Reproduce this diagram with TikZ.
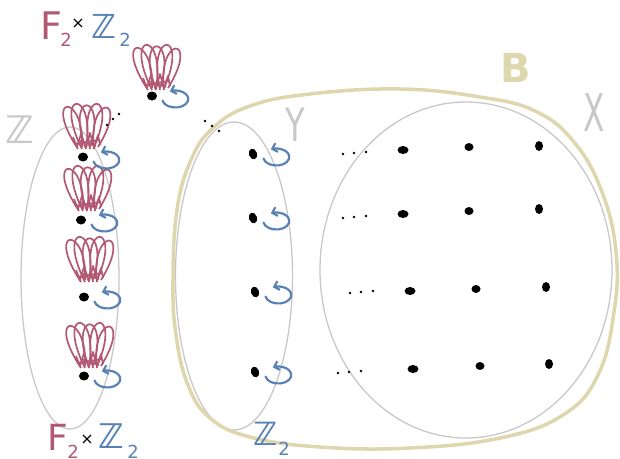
\documentclass[tikz,border=0pt]{standalone}
\usepackage{fontspec}
\setmainfont{DejaVu Sans}
\usetikzlibrary{shapes.geometric,arrows.meta,calc}
\definecolor{pinkc}{RGB}{178,88,115}
\definecolor{bluec}{RGB}{88,130,182}
\definecolor{grayc}{RGB}{200,200,200}
\definecolor{bcol}{RGB}{222,214,172}
\newcommand\fsz[1]{\fontsize{#1}{#1}\selectfont}
\begin{document}
\begin{tikzpicture}[x=1pt,y=-1pt,
  setell/.style={ellipse, draw=grayc, line width=1.3pt, inner sep=0},
  bline/.style={draw=bcol, line width=3.5pt},
  dotn/.style={ellipse, fill=black, inner sep=0, minimum width=10pt, minimum height=9pt},
  ydot/.style={ellipse, fill=black, inner sep=0, minimum width=8pt, minimum height=11pt, rotate=20},
  tinyd/.style={circle, fill=black, inner sep=0, minimum size=2.8pt},
  petal/.style={draw=pinkc, line width=1.7pt, line join=round},
  arrowc/.style={draw=bluec, line width=2.2pt, line cap=round, -{Straight Barb[length=4.5pt,width=9pt]}},
  lbl/.style={inner sep=0},
  flower/.pic={
    \foreach \t/\b/\h in {-23/-8/-56,-12/-4/-60,0/0/-58,12/4/-60,23/8/-55} {
      \draw[petal] (\b,0) .. controls (\t-22,\h) and (\t+22,\h) .. (\b+4,-2);
    }
    \draw[petal] (-13,-12) -- (-9,-2) -- (-5,-15) -- (0,-1) -- (4,-16) -- (8,-2) -- (12,-14) -- (14,-4);
    \draw[petal] (-12,-5) -- (13,-9);
    \draw[petal] (-8,-9) -- (10,-3);
  },
  turn/.pic={
    \draw[arrowc] (10.5,4.5) arc[start angle=190, end angle=475, x radius=13pt, y radius=8.5pt];
  }
]
\useasboundingbox (0,0) rectangle (620,458);

% sets
\node[setell, minimum width=98pt, minimum height=302pt] (Zset) at (70,278) {};
\node[setell, minimum width=117pt, minimum height=308pt] (Yset) at (234,276) {};
\node[setell, minimum width=292pt, minimum height=336pt] (Xset) at (466,270) {};

% B
\draw[bline] plot[smooth cycle, tension=0.7] coordinates {
 (173,280) (177,210) (191,160) (213,128) (250,106) (310,94) (400,89)
 (480,97) (535,111) (574,142) (602,192) (616,252) (614,312) (598,375)
 (563,415) (500,438) (410,448) (320,447) (250,437) (210,418) (188,385) (176,335)};

% Z column
\node[dotn] (z0) at (152,96) {};
\node[dotn] (z1) at (83,157) {};
\node[dotn] (z2) at (81,220) {};
\node[dotn] (z3) at (84,297) {};
\node[dotn] (z4) at (84,376) {};
\pic at (156,90) {flower};
\pic at (86,149) {flower};
\pic at (87,211) {flower};
\pic at (89,282) {flower};
\pic at (89,368) {flower};
\foreach \n in {z0,z1,z2,z3,z4} { \pic at (\n) {turn}; }

% ellipsis near top
\node[tinyd] (ea1) at (107,125) {};
\node[tinyd] (ea2) at (113,119) {};
\node[tinyd] (ea3) at (119,114) {};
\node[tinyd] (eb1) at (205,121) {};
\node[tinyd] (eb2) at (212,126) {};
\node[tinyd] (eb3) at (219,131) {};

% Y column
\node[ydot] (y1) at (253,154) {};
\node[ydot] (y2) at (253,218) {};
\node[ydot] (y3) at (255,292) {};
\node[ydot] (y4) at (255,372) {};
\foreach \n in {y1,y2,y3,y4} { \pic at (\n) {turn}; }

% ellipses between Y and X
\foreach \r/\x/\y in {1/343/154,2/343/218,3/350/293,4/338/373} {
  \node[tinyd] (d\r a) at (\x,\y) {};
  \node[tinyd] (d\r b) at (\x+11,\y-1) {};
  \node[tinyd] (d\r c) at (\x+23,\y-2) {};
}

% X dots
\node[dotn, minimum width=11pt, minimum height=8pt] (x11) at (403,150) {};
\node[dotn, minimum width=9pt, minimum height=8pt] (x12) at (469,147) {};
\node[dotn, minimum width=8pt, minimum height=10pt] (x13) at (539,146) {};
\node[dotn, minimum width=11pt, minimum height=8pt] (x21) at (403,214) {};
\node[dotn, minimum width=9pt, minimum height=8pt] (x22) at (469,211) {};
\node[dotn, minimum width=8pt, minimum height=10pt] (x23) at (539,209) {};
\node[dotn, minimum width=11pt, minimum height=8pt] (x31) at (410,291) {};
\node[dotn, minimum width=9pt, minimum height=8pt] (x32) at (476,289) {};
\node[dotn, minimum width=8pt, minimum height=10pt] (x33) at (546,287) {};
\node[dotn, minimum width=11pt, minimum height=8pt] (x41) at (413,369) {};
\node[dotn, minimum width=9pt, minimum height=8pt] (x42) at (480,366) {};
\node[dotn, minimum width=8pt, minimum height=10pt] (x43) at (549,364) {};

% labels
\node[lbl, text=grayc, font=\bfseries\fsz{38}] (lZ) at (20,130) {ℤ};
\node[lbl, text=grayc, font=\fsz{46}, xscale=0.7] (lY) at (295,125) {Y};
\node[lbl, text=grayc, font=\fsz{52}, xscale=0.6] (lX) at (594,113) {X};
\node[lbl, text=bcol, font=\bfseries\fsz{40}] (lB) at (516,68) {B};

\node[lbl, text=pinkc, font=\fsz{38}] (tF) at (51,26) {F};
\node[lbl, text=pinkc, font=\fsz{18}] (tF2) at (66,40) {2};
\node[lbl, text=black, font=\fsz{16}] (tx) at (78,24) {×};
\node[lbl, text=bluec, font=\bfseries\fsz{33}] (tZ) at (104,26) {ℤ};
\node[lbl, text=bluec, font=\fsz{18}] (tZ2) at (125,40) {2};

\node[lbl, text=pinkc, font=\fsz{36}] (bF) at (58,437) {F};
\node[lbl, text=pinkc, font=\fsz{18}] (bF2) at (73,452) {2};
\node[lbl, text=black, font=\fsz{16}] (bx) at (87,440) {×};
\node[lbl, text=bluec, font=\bfseries\fsz{34}] (bZ) at (111,436) {ℤ};
\node[lbl, text=bluec, font=\fsz{18}] (bZ2) at (133,452) {2};

\node[lbl, text=bluec, font=\bfseries\fsz{32}] (yZ) at (266,434) {ℤ};
\node[lbl, text=bluec, font=\fsz{18}] (yZ2) at (284,449) {2};
\end{tikzpicture}
\end{document}
